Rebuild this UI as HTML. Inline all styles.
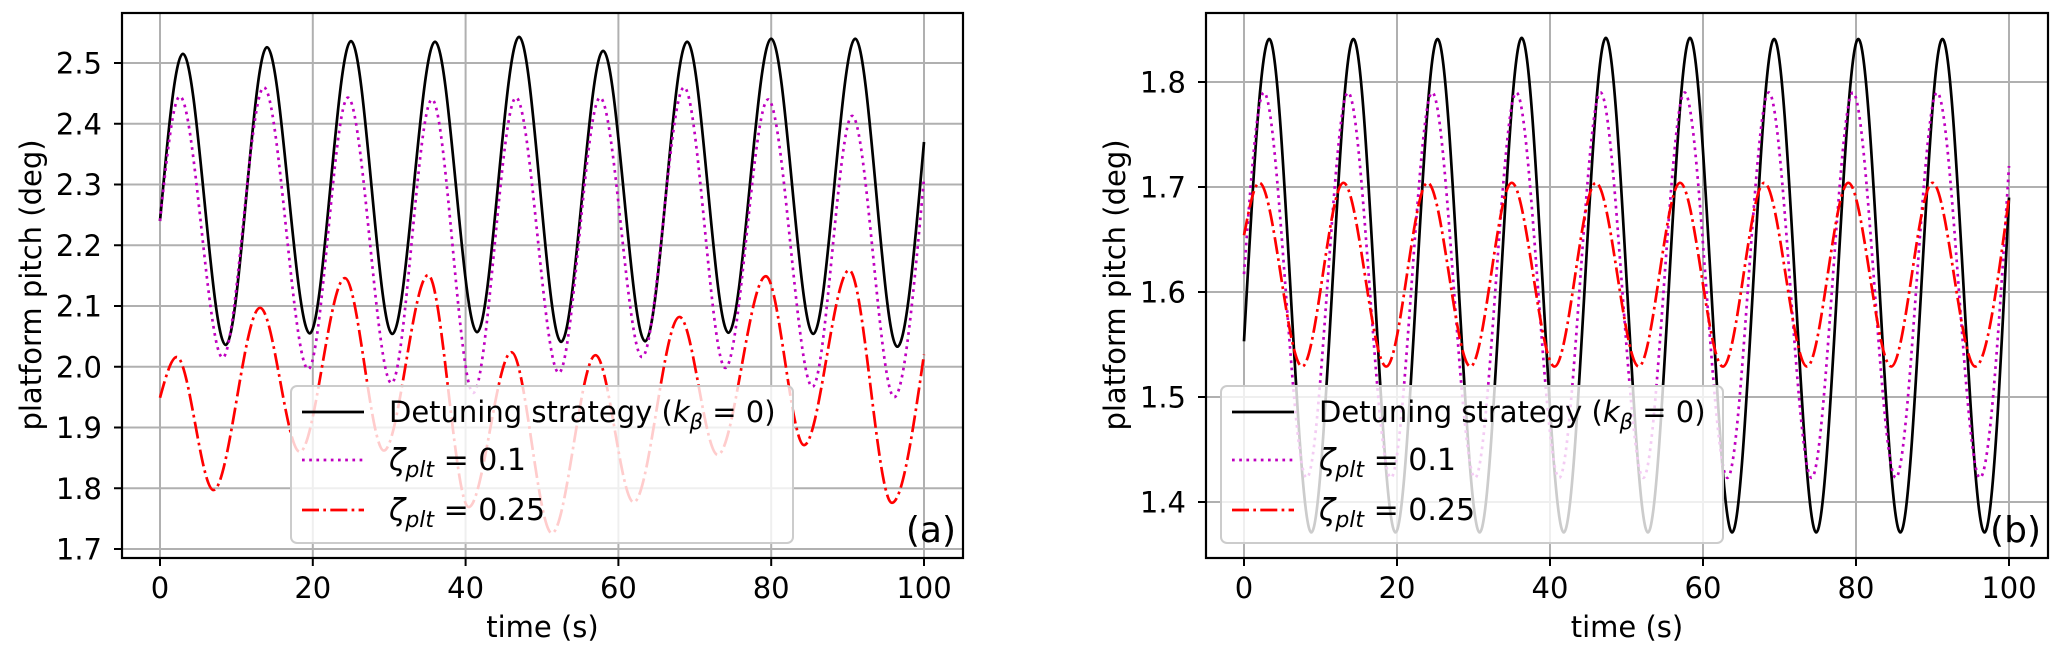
<!DOCTYPE html>
<html><head><meta charset="utf-8"><style>
html,body{margin:0;padding:0;background:#fff}
svg{display:block;font-family:"DejaVu Sans","Liberation Sans",sans-serif}
</style></head><body>
<svg id="fig" width="2067" height="654" viewBox="0 0 2067 654"></svg>
<script>
// ---------- Panel (a) data: extrema (time s, pitch deg) ----------
const aBlackT = [0, 3.0, 8.6, 14.0, 19.6, 25.0, 30.4, 36.0, 41.5, 47.0, 52.5, 58.0, 63.5, 69.0, 74.4, 80.0, 85.5, 91.0, 96.5, 100];
const aBlackV = [2.24, 2.515, 2.036, 2.526, 2.055, 2.536, 2.054, 2.535, 2.057, 2.543, 2.041, 2.52, 2.042, 2.535, 2.056, 2.54, 2.054, 2.54, 2.033, 2.37];
const aMagT = [0, 2.6, 8.2, 13.6, 19.4, 24.6, 30.3, 35.6, 41.0, 46.6, 52.2, 57.6, 63.1, 68.6, 74.0, 79.6, 85.4, 90.6, 96.1, 100];
const aMagV = [2.24, 2.445, 2.015, 2.46, 1.996, 2.443, 1.973, 2.44, 1.957, 2.443, 1.99, 2.443, 2.016, 2.46, 1.998, 2.44, 1.967, 2.413, 1.95, 2.31];
const aRedT = [0, 2.2, 7.0, 13.1, 18.3, 24.2, 29.3, 35.1, 40.4, 46.0, 51.3, 57.0, 62.0, 68.0, 73.0, 79.3, 84.3, 90.2, 95.8, 100];
const aRedV = [1.949, 2.016, 1.797, 2.097, 1.86, 2.146, 1.862, 2.151, 1.769, 2.024, 1.726, 2.019, 1.777, 2.082, 1.855, 2.149, 1.871, 2.159, 1.776, 2.02];
// ---------- Panel (b) data ----------
const bBlackT = [0, 3.3, 8.8, 14.3, 19.8, 25.3, 30.8, 36.3, 41.8, 47.3, 52.8, 58.3, 63.8, 69.3, 74.8, 80.3, 85.8, 91.3, 96.8, 100];
const bBlackV = [1.553, 1.841, 1.371, 1.841, 1.371, 1.841, 1.371, 1.842, 1.371, 1.842, 1.371, 1.842, 1.371, 1.841, 1.371, 1.841, 1.371, 1.841, 1.371, 1.69];
const bMagT = [0, 2.6, 8.2, 13.6, 19.2, 24.6, 30.2, 35.6, 41.2, 46.6, 52.2, 57.6, 63.2, 68.6, 74.2, 79.6, 85.2, 90.6, 96.2, 100];
const bMagV = [1.617, 1.79, 1.423, 1.79, 1.423, 1.79, 1.423, 1.79, 1.423, 1.79, 1.423, 1.79, 1.423, 1.79, 1.423, 1.79, 1.423, 1.79, 1.423, 1.72];
const bRedT = [0, 2.0, 7.6, 13.0, 18.6, 24.0, 29.6, 35.0, 40.6, 46.0, 51.6, 57.0, 62.6, 68.0, 73.6, 79.0, 84.6, 90.0, 95.6, 100];
const bRedV = [1.654, 1.704, 1.529, 1.704, 1.529, 1.704, 1.529, 1.704, 1.529, 1.704, 1.529, 1.704, 1.529, 1.704, 1.529, 1.704, 1.529, 1.704, 1.529, 1.69];
// ---------- ticks ----------
const xTicks = [0, 20, 40, 60, 80, 100];
const aYTicks = [1.7, 1.8, 1.9, 2.0, 2.1, 2.2, 2.3, 2.4, 2.5];
const bYTicks = [1.4, 1.5, 1.6, 1.7, 1.8];

const NS = "http://www.w3.org/2000/svg";
const svg = document.getElementById('fig');
function mk(tag, attrs, parent){
  const e = document.createElementNS(NS, tag);
  for (const k in attrs) e.setAttribute(k, attrs[k]);
  (parent||svg).appendChild(e);
  return e;
}
function curvePath(T, V, sx, sy){
  const n = T.length;
  const px = T.map(sx), py = V.map(sy);
  let d = "M" + px[0].toFixed(2) + "," + py[0].toFixed(2);
  for (let i = 0; i < n-1; i++){
    const dx = px[i+1]-px[i];
    let c1x = px[i]+dx/3, c1y = py[i], c2x = px[i+1]-dx/3, c2y = py[i+1];
    if (i === 0) c1y = py[0] + (py[1]-py[0])*0.5;
    if (i === n-2) c2y = py[n-1] - (py[n-1]-py[n-2])*0.5;
    d += " C" + c1x.toFixed(2)+","+c1y.toFixed(2)+" "+c2x.toFixed(2)+","+c2y.toFixed(2)+" "+px[i+1].toFixed(2)+","+py[i+1].toFixed(2);
  }
  return d;
}

function panel(cfg){
  const L = cfg.left, R = cfg.right, Tp = 13, B = 558;
  const sx = t => cfg.x0 + (t)*(cfg.x100 - cfg.x0)/100;
  const sy = v => cfg.yA + (v - cfg.vA)*(cfg.yB - cfg.yA)/(cfg.vB - cfg.vA);
  const g = mk('g', {});
  
  
  const clipId = cfg.name + '-clip';
  const cp = mk('clipPath', {id: clipId}, g);
  mk('rect', {x: L, y: Tp, width: R-L, height: B-Tp}, cp);
  const grid = mk('g', {stroke: '#b0b0b0', 'stroke-width': 2}, g);
  
  
  xTicks.forEach(t => { const l = mk('line', {x1: sx(t), x2: sx(t), y1: Tp, y2: B}, grid);
    
     });
  cfg.yTicks.forEach(v => { const l = mk('line', {x1: L, x2: R, y1: sy(v), y2: sy(v)}, grid);
    
     });
  const sg = mk('g', {'clip-path': 'url(#' + clipId + ')', fill: 'none'}, g);
  const s1 = mk('path', {d: curvePath(cfg.bT, cfg.bV, sx, sy), stroke: '#000', 'stroke-width': 2.7}, sg);
  
  
  const s2 = mk('path', {d: curvePath(cfg.mT, cfg.mV, sx, sy), stroke: '#c000c0', 'stroke-width': 2.7, 'stroke-dasharray': '2.7 4.5'}, sg);
  
  
  const s3 = mk('path', {d: curvePath(cfg.rT, cfg.rV, sx, sy), stroke: '#ff0000', 'stroke-width': 2.7, 'stroke-dasharray': '17 4.3 2.7 4.3'}, sg);
  
  
  const fr = mk('rect', {x: L, y: Tp, width: R-L, height: B-Tp, fill: 'none', stroke: '#000', 'stroke-width': 2.2}, g);
  
  
  xTicks.forEach(t => {
    const tk = mk('line', {x1: sx(t), x2: sx(t), y1: B, y2: B+8, stroke: '#000', 'stroke-width': 2}, g);
    
    
    const tx = mk('text', {x: sx(t), y: 598, 'text-anchor': 'middle', 'font-size': 29, fill: '#000'}, g);
    tx.textContent = String(t);
    
    
  });
  cfg.yTicks.forEach(v => {
    const tk = mk('line', {x1: L-8, x2: L, y1: sy(v), y2: sy(v), stroke: '#000', 'stroke-width': 2}, g);
    
    
    const tx = mk('text', {x: L-20, y: sy(v)+10.5, 'text-anchor': 'end', 'font-size': 29, fill: '#000'}, g);
    tx.textContent = v.toFixed(1);
    
    
  });
  const xl = mk('text', {x: (L+R)/2, y: 637, 'text-anchor': 'middle', 'font-size': 29, fill: '#000'}, g);
  xl.textContent = 'time (s)';
  
  
  const yl = mk('text', {transform: 'translate(' + cfg.ylx + ',285) rotate(-90)', 'text-anchor': 'middle', 'font-size': 29, fill: '#000'}, g);
  yl.textContent = 'platform pitch (deg)';
  
  
  const lg = mk('g', {}, g);
  
  
  const lx = cfg.legX;
  mk('rect', {x: lx, y: 386, width: 502, height: 157, rx: 6, fill: 'rgba(255,255,255,0.8)', stroke: '#cccccc', 'stroke-width': 2}, lg);
  const rows = [412, 460, 510];
  const st = [
    {stroke: '#000', dash: null, name: 'legend-entry-detuning'},
    {stroke: '#c000c0', dash: '2.7 4.5', name: 'legend-entry-zeta-0.1'},
    {stroke: '#ff0000', dash: '17 4.3 2.7 4.3', name: 'legend-entry-zeta-0.25'}
  ];
  rows.forEach((ry, i) => {
    const a = {x1: lx+11, x2: lx+73, y1: ry, y2: ry, stroke: st[i].stroke, 'stroke-width': 2.7};
    if (st[i].dash) a['stroke-dasharray'] = st[i].dash;
    const hl = mk('line', a, lg);
    
    
  });
  const t1 = mk('text', {x: lx+98, y: 422, 'font-size': 29, fill: '#000'}, lg);
  
  
  t1.innerHTML = 'Detuning strategy (<tspan font-style="italic">k</tspan><tspan font-style="italic" font-size="21" dy="7">β</tspan><tspan dy="-7"> = 0)</tspan>';
  const t2 = mk('text', {x: lx+98, y: 470, 'font-size': 30, fill: '#000'}, lg);
  
  
  t2.innerHTML = '<tspan font-style="italic">ζ</tspan><tspan font-style="italic" font-size="22" dy="7">plt</tspan><tspan dy="-7"> = 0.1</tspan>';
  const t3 = mk('text', {x: lx+98, y: 520, 'font-size': 30, fill: '#000'}, lg);
  
  
  t3.innerHTML = '<tspan font-style="italic">ζ</tspan><tspan font-style="italic" font-size="22" dy="7">plt</tspan><tspan dy="-7"> = 0.25</tspan>';
  const pl = mk('text', {x: R-7, y: 542, 'text-anchor': 'end', 'font-size': 36, fill: '#000'}, g);
  pl.textContent = cfg.letter;
  
  
}

panel({name: 'panel-a', left: 122, right: 963, x0: 160, x100: 924, yA: 63, vA: 2.5, yB: 549, vB: 1.7,
  yTicks: aYTicks, bT: aBlackT, bV: aBlackV, mT: aMagT, mV: aMagV, rT: aRedT, rV: aRedV,
  ylx: 41, legX: 291, letter: '(a)'});
panel({name: 'panel-b', left: 1206, right: 2048, x0: 1244, x100: 2009, yA: 82, vA: 1.8, yB: 502, vB: 1.4,
  yTicks: bYTicks, bT: bBlackT, bV: bBlackV, mT: bMagT, mV: bMagV, rT: bRedT, rV: bRedV,
  ylx: 1125, legX: 1221, letter: '(b)'});
</script>
</body></html>
